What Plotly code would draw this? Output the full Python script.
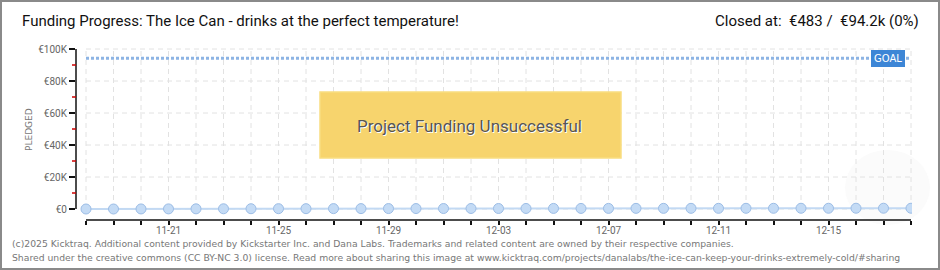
import plotly.graph_objects as go
import pandas as pd

# ---- data ----
start_date = "2024-11-18"
pledged = [0, 0, 35, 70, 105, 140, 175, 210, 210, 245, 245, 280, 280, 300, 320, 320,
           340, 360, 360, 380, 400, 400, 420, 420, 440, 440, 460, 460, 483, 483, 483]
goal = 94200
dates = [d.strftime("%m-%d") for d in pd.date_range(start_date, periods=len(pledged))]
label_every = 4
label_offset = 3
x_ticktext = [d if (i - label_offset) % label_every == 0 else "" for i, d in enumerate(dates)]
y_tickvals = [0, 20000, 40000, 60000, 80000, 100000]
y_ticktext = ["€0", "€20K", "€40K", "€60K", "€80K", "€100K"]
y_minorvals = [10000, 30000, 50000, 70000, 90000]
title_text = "Funding Progress: The Ice Can - drinks at the perfect temperature!"
closed_text = "Closed at:  €483 /  €94.2k (0%)"
status_text = "Project Funding Unsuccessful"
footer1 = "(c)2025 Kicktraq. Additional content provided by Kickstarter Inc. and Dana Labs. Trademarks and related content are owned by their respective companies."
footer2 = "Shared under the creative commons (CC BY-NC 3.0) license. Read more about sharing this image at www.kicktraq.com/projects/danalabs/the-ice-can-keep-your-drinks-extremely-cold/#sharing"

# ---- layout geometry (pixels) ----
W, H = 940, 270
L, R, T, B = 76, 28, 48, 50
PW, PH = W - L - R, H - T - B


def px(x):
    return (x - L) / PW


def py(y):
    return (H - B - y) / PH


n = len(pledged)
idx = list(range(n))
x_left = -10 / 27.5
x_right = (n - 1) + 1 / 27.5
y_min = -11 / 1.6 * 1000
y_max = 100000 + 1 / 1.6 * 1000

GRID = "#e2e2e2"
TXT = "Roboto"
fig = go.Figure()

# goal line
fig.add_trace(go.Scatter(
    x=[0, n - 1], y=[goal, goal], mode="lines",
    line=dict(color="#8db4e4", width=3, dash="3px,2px"),
    hoverinfo="skip", showlegend=False))

# pledged series
fig.add_trace(go.Scatter(
    x=idx, y=pledged, mode="lines+markers",
    line=dict(color="#c2d9f3", width=2),
    marker=dict(size=10, color="#c4dbf5", line=dict(color="#9cbde6", width=1)),
    showlegend=False))

shapes = []
# faint watermark
shapes.append(dict(type="circle", xref="paper", yref="paper",
                   x0=px(845), x1=px(930), y0=py(225), y1=py(150),
                   fillcolor="#fbfbfb", line=dict(width=0), layer="below"))
# horizontal grid
for v in y_tickvals:
    shapes.append(dict(type="line", xref="x", yref="y", x0=0, x1=n - 1, y0=v, y1=v,
                       line=dict(color=GRID, width=1, dash="5px,4px"), layer="below"))
# vertical grid
for i in idx:
    shapes.append(dict(type="line", xref="x", yref="y", x0=i, x1=i, y0=0, y1=100000,
                       line=dict(color=GRID, width=1, dash="5px,4px"), layer="below"))
# axis lines
shapes.append(dict(type="line", xref="paper", yref="y", x0=0, x1=0, y0=0, y1=100000,
                   line=dict(color="#111", width=1.5)))
shapes.append(dict(type="line", xref="x", yref="paper", x0=0, x1=n - 1, y0=0, y1=0,
                   line=dict(color="#111", width=1.5)))
# red minor ticks on y axis
for v in y_minorvals:
    shapes.append(dict(type="line", xref="paper", yref="y", x0=px(72), x1=0, y0=v, y1=v,
                       line=dict(color="#cc0000", width=1.5)))
# unsuccessful box
shapes.append(dict(type="rect", xref="paper", yref="paper",
                   x0=px(320), x1=px(621), y0=py(158), y1=py(92),
                   fillcolor="#f7d46d", line=dict(color="#f9dd80", width=1.5), opacity=1))
# border
shapes.append(dict(type="rect", xref="paper", yref="paper",
                   x0=px(1), x1=px(939), y0=py(269), y1=py(1),
                   line=dict(color="#8a8a8a", width=2)))

annotations = [
    dict(text=title_text, xref="paper", yref="paper", x=px(20), y=py(21),
         xanchor="left", yanchor="middle", showarrow=False,
         font=dict(family=TXT, size=15, color="#111")),
    dict(text=closed_text, xref="paper", yref="paper", x=px(921), y=py(21),
         xanchor="right", yanchor="middle", showarrow=False,
         font=dict(family=TXT, size=15, color="#111")),
    dict(text=status_text, xref="paper", yref="paper", x=px(469), y=py(126),
         xanchor="center", yanchor="middle", showarrow=False,
         font=dict(family=TXT, size=17, color="#555",
                   shadow="1px 1px 0px #ffffff")),
    dict(text="GOAL", xref="paper", yref="y", x=px(888), y=goal,
         xanchor="center", yanchor="middle", showarrow=False,
         bgcolor="#3d86d6", bordercolor="#3d86d6", borderpad=2, borderwidth=1,
         font=dict(family="DejaVu Sans", size=10, color="#ffffff")),
    dict(text="PLEDGED", xref="paper", yref="paper", x=px(29), y=py(130),
         xanchor="center", yanchor="middle", showarrow=False, textangle=-90,
         font=dict(family="DejaVu Sans", size=9, color="#777")),
    dict(text=footer1, xref="paper", yref="paper", x=px(10), y=py(243),
         xanchor="left", yanchor="middle", showarrow=False,
         font=dict(family="DejaVu Sans", size=9.25, color="#777")),
    dict(text=footer2, xref="paper", yref="paper", x=px(10), y=py(257),
         xanchor="left", yanchor="middle", showarrow=False,
         font=dict(family="DejaVu Sans", size=9.25, color="#777")),
]

fig.update_layout(
    width=W, height=H, margin=dict(l=L, r=R, t=T, b=B, autoexpand=False),
    paper_bgcolor="#ffffff", plot_bgcolor="#ffffff",
    shapes=shapes, annotations=annotations, showlegend=False,
    xaxis=dict(range=[x_left, x_right], showgrid=False, zeroline=False, showline=False,
               tickmode="array", tickvals=idx, ticktext=x_ticktext,
               ticks="outside", ticklen=4, tickwidth=1.5, tickcolor="#111",
               ticklabelstandoff=-3,
               tickfont=dict(family=TXT, size=10, color="#666")),
    yaxis=dict(range=[y_min, y_max], showgrid=False, zeroline=False, showline=False,
               tickmode="array", tickvals=y_tickvals, ticktext=y_ticktext,
               ticks="outside", ticklen=6, tickwidth=1.5, tickcolor="#111",
               tickfont=dict(family=TXT, size=10, color="#666")),
)

fig.write_html("out.html")
